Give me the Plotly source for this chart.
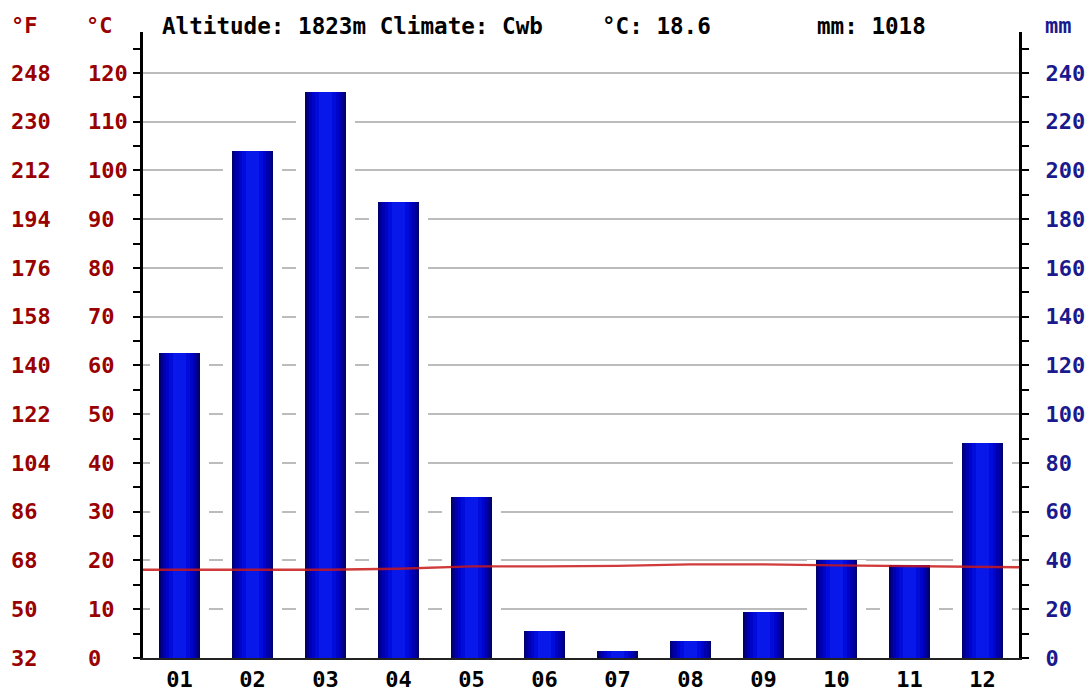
import plotly.graph_objects as go

# ---------------- data ----------------
months = ["01", "02", "03", "04", "05", "06", "07", "08", "09", "10", "11", "12"]
precip_mm = [125, 208, 232, 187, 66, 11, 3, 7, 19, 40, 38, 88]
temp_c = [18.1, 18.1, 18.1, 18.3, 18.8, 18.8, 18.9, 19.2, 19.2, 19.0, 18.8, 18.6]
c_ticks = [0, 10, 20, 30, 40, 50, 60, 70, 80, 90, 100, 110, 120]
f_ticks = [32, 50, 68, 86, 104, 122, 140, 158, 176, 194, 212, 230, 248]
mm_ticks = [0, 20, 40, 60, 80, 100, 120, 140, 160, 180, 200, 220, 240]
header_text = "Altitude: 1823m Climate: Cwb"
mean_temp_text = "°C: 18.6"
total_precip_text = "mm: 1018"

# ---------------- geometry / style ----------------
OFF = 0                      # page body margin removed by the post script
W, H = 1086 - 2 * OFF, 688 - 2 * OFF
X0, X1 = 143 - OFF, 1019 - OFF      # plot left / right (figure px)
Y0, Y1 = 658 - OFF, 32 - OFF        # zero line / top of axes (figure px)
C_MAX = 128.4
FONT = "DejaVu Sans Mono"
RED = "#990000"
BLUE = "#1a1a8e"

xdom = [X0 / W, X1 / W]
ydom = [(H - Y0) / H, (H - Y1) / H]
xi = list(range(len(months)))

fig = go.Figure()

# white "shadow" behind bars (hides gridlines around bars)
fig.add_trace(go.Bar(x=xi, y=precip_mm, width=0.82, marker=dict(color="white", line=dict(width=0)),
                     yaxis="y", hoverinfo="skip", showlegend=False))

# layered bars to imitate the horizontal gradient
layers = [(0.55, "#000070"), (0.50, "#000090"), (0.44, "#0000b0"),
          (0.37, "#0004c8"), (0.29, "#000cdc"), (0.19, "#0818ea")]
for w, col in layers:
    fig.add_trace(go.Bar(x=xi, y=precip_mm, width=w, marker=dict(color=col, line=dict(width=0)),
                         yaxis="y", hoverinfo="skip", showlegend=False))

# temperature line, spanning the full plot width (on the overlaying °C axis, drawn above bars)
line_x = [-0.5] + xi + [len(months) - 0.5]
line_y = [temp_c[0]] + temp_c + [temp_c[-1]]
fig.add_trace(go.Scatter(x=line_x, y=line_y, mode="lines",
                         line=dict(color="#c81818", width=2.4), opacity=0.85,
                         yaxis="y2", showlegend=False, hoverinfo="skip"))

# invisible carriers so that the label-only axes get drawn
fig.add_trace(go.Scatter(x=[0] * len(c_ticks), y=c_ticks, mode="markers", marker=dict(opacity=0),
                         yaxis="y3", showlegend=False, hoverinfo="skip"))
fig.add_trace(go.Scatter(x=[0] * len(f_ticks), y=f_ticks, mode="markers", marker=dict(opacity=0),
                         yaxis="y4", showlegend=False, hoverinfo="skip"))

fig.update_layout(
    template="none",
    width=W, height=H,
    margin=dict(l=0, r=0, t=0, b=0),
    paper_bgcolor="white", plot_bgcolor="white",
    barmode="overlay",
    bargap=0,
    showlegend=False,
    hovermode=False,
    font=dict(family=FONT, size=22, color="black", weight="bold"),
    xaxis=dict(domain=xdom, range=[-0.5, len(months) - 0.5], tickvals=xi, ticktext=months,
               ticks="", showgrid=False, zeroline=False, showline=True, linecolor="#222222",
               linewidth=2, tickfont=dict(family=FONT, size=22, color="black", weight="bold"),
               ticklabelstandoff=1, automargin=False, fixedrange=True),
    xaxis2=dict(domain=xdom, range=[-0.5, len(months) - 0.5], overlaying="x", anchor="y", side="bottom",
                tickvals=[i - 0.5 for i in range(len(months) + 1)], ticks="outside", ticklen=6,
                tickwidth=2, tickcolor="black", showticklabels=False, showgrid=False,
                zeroline=False, showline=False, automargin=False),
    # primary: mm axis (right) carrying the gridlines and the bars
    yaxis=dict(domain=ydom, range=[0, 2 * C_MAX], side="right", anchor="x",
               tickvals=mm_ticks, ticks="outside", ticklen=7, tickwidth=2, tickcolor="black",
               minor=dict(tick0=0, dtick=10, ticks="outside", ticklen=7, tickwidth=2, tickcolor="black",
                          showgrid=False),
               showgrid=True, gridcolor="#bcbcbc", gridwidth=2, zeroline=False,
               showline=True, linecolor="black", linewidth=3,
               tickfont=dict(family=FONT, size=22, color=BLUE, weight="bold"),
               ticklabelstandoff=12, automargin=False),
    # °C axis (left) : line + ticks, no labels
    yaxis2=dict(domain=ydom, range=[0, C_MAX], overlaying="y", anchor="x", side="left",
                tickvals=c_ticks, showticklabels=False,
                ticks="outside", ticklen=7, tickwidth=2, tickcolor="black",
                minor=dict(tick0=0, dtick=5, ticks="outside", ticklen=7, tickwidth=2, tickcolor="black",
                           showgrid=False),
                showgrid=False, zeroline=False,
                showline=True, linecolor="black", linewidth=3, automargin=False),
    # °C labels (left-aligned column)
    yaxis3=dict(domain=ydom, range=[0, C_MAX], overlaying="y", anchor="free", side="right",
                position=(87 - OFF) / W, tickvals=c_ticks, ticks="", showgrid=False, zeroline=False,
                showline=False, tickfont=dict(family=FONT, size=22, color=RED, weight="bold"),
                automargin=False),
    # °F labels (left-aligned column)
    yaxis4=dict(domain=ydom, range=[32, 32 + 1.8 * C_MAX], overlaying="y", anchor="free", side="right",
                position=(10 - OFF) / W, tickvals=f_ticks, ticks="", showgrid=False, zeroline=False,
                showline=False, tickfont=dict(family=FONT, size=22, color=RED, weight="bold"),
                automargin=False),
)

ty = 1 - (26 - OFF) / H
def header(x, text, color, size=22):
    fig.add_annotation(x=(x - OFF) / W, y=ty, xref="paper", yref="paper", text=text, showarrow=False,
                       xanchor="left", yanchor="middle",
                       font=dict(family=FONT, size=size, color=color, weight="bold"))

header(9, "°F", RED)
header(84, "°C", RED)
header(160, header_text, "black", 22.6)
header(600, mean_temp_text, "black", 22.6)
header(815, total_precip_text, "black", 22.6)
header(1043, "mm", BLUE)

fig.write_html("out.html",
               config={"displayModeBar": False, "staticPlot": True},
               post_script="document.body.style.margin='0';document.body.style.overflow='hidden';")
